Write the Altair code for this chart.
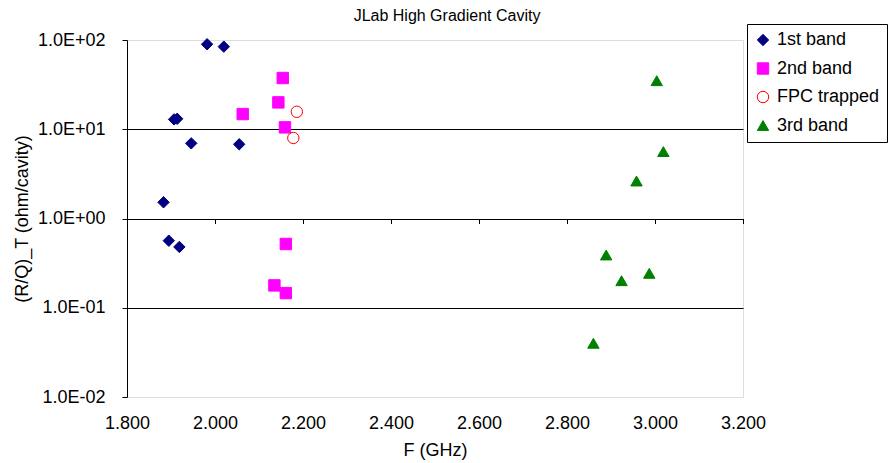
import altair as alt
import pandas as pd

# ---- data ----
series_names = ["1st band", "2nd band", "FPC trapped", "3rd band"]

freq_1st = [1.982, 2.020, 1.907, 1.914, 1.946, 2.055, 1.883, 1.895, 1.919]
rq_1st = [89.6, 84.2, 12.9, 13.1, 6.95, 6.78, 1.52, 0.564, 0.48]

freq_2nd = [2.154, 2.144, 2.063, 2.159, 2.161, 2.135, 2.161]
rq_2nd = [37.5, 20.0, 14.8, 10.5, 0.518, 0.178, 0.146]

freq_fpc = [2.186, 2.178]
rq_fpc = [15.7, 7.98]

freq_3rd = [3.004, 3.019, 2.958, 2.889, 2.987, 2.924, 2.860]
rq_3rd = [35.0, 5.62, 2.63, 0.39, 0.243, 0.201, 0.040]

x_ticks = [1.8, 2.0, 2.2, 2.4, 2.6, 2.8, 3.0, 3.2]
y_ticks = [0.01, 0.1, 1, 10, 100]

# ---- styles ----
fill_colors = ["#000080", "#FF00FF", "transparent", "#008000"]
stroke_colors = ["#000080", "#FF00FF", "#FF0000", "#008000"]
shapes = ["diamond", "square", "circle", "triangle-up"]
FONT = "Liberation Sans"

rows = []
for name, fx, fy in [
    ("1st band", freq_1st, rq_1st),
    ("2nd band", freq_2nd, rq_2nd),
    ("FPC trapped", freq_fpc, rq_fpc),
    ("3rd band", freq_3rd, rq_3rd),
]:
    for a, b in zip(fx, fy):
        rows.append({"series": name, "F": a, "RQ": b})
df = pd.DataFrame(rows)

exp = "round(log(datum.value)/LN10)"
label_expr = f"'1.0E' + ({exp} >= 0 ? '+' : '-') + (abs({exp}) < 10 ? '0' : '') + abs({exp})"

legend = alt.Legend(
    title=None,
    orient="none",
    legendX=620,
    legendY=-16,
    labelFontSize=18,
    labelFont=FONT,
    labelColor="black",
    symbolSize=130,
    symbolStrokeWidth=1,
    symbolOpacity=1,
    rowPadding=10.5,
    padding=7,
    strokeColor="black",
    fillColor="white",
    labelOffset=5,
    cornerRadius=0,
)

chart = (
    alt.Chart(df)
    .mark_point(opacity=1, size=130, strokeWidth=1)
    .encode(
        x=alt.X(
            "F:Q",
            title="F (GHz)",
            scale=alt.Scale(domain=[1.8, 3.2], nice=False, zero=False),
            axis=alt.Axis(
                values=x_ticks,
                format=".3f",
                grid=False,
                domain=False,
                ticks=True,
                tickColor="black",
                tickSize=5,
                offset=-178.5,
                labelPadding=191,
                labelFlush=False,
                labelFontSize=18,
                labelFont=FONT,
                labelColor="black",
                titleFontSize=18,
                titleFont=FONT,
                titleFontWeight="normal",
                titleColor="black",
                titlePadding=23,
            ),
        ),
        y=alt.Y(
            "RQ:Q",
            title="(R/Q)_T (ohm/cavity)",
            scale=alt.Scale(type="log", domain=[0.01, 100], nice=False),
            axis=alt.Axis(
                values=y_ticks,
                labelExpr=label_expr,
                grid=True,
                gridColor=alt.condition(
                    "datum.value > 0.05 && datum.value < 50",
                    alt.value("black"),
                    alt.value("transparent"),
                ),
                gridWidth=1,
                domain=True,
                domainColor="black",
                ticks=True,
                tickColor="black",
                tickSize=5,
                labelPadding=17,
                labelFlush=False,
                labelFontSize=18,
                labelFont=FONT,
                labelColor="black",
                titleFontSize=18,
                titleFont=FONT,
                titleFontWeight="normal",
                titleColor="black",
                titlePadding=6,
            ),
        ),
        fill=alt.Fill("series:N", scale=alt.Scale(domain=series_names, range=fill_colors), legend=legend),
        stroke=alt.Stroke("series:N", scale=alt.Scale(domain=series_names, range=stroke_colors), legend=legend),
        shape=alt.Shape("series:N", scale=alt.Scale(domain=series_names, range=shapes), legend=legend),
    )
    .properties(
        width=616,
        height=357,
        autosize=alt.AutoSizeParams(type="none"),
        padding={"left": 127, "top": 40, "right": 146, "bottom": 66},
        title=alt.TitleParams(
            "JLab High Gradient Cavity",
            fontSize=16,
            font=FONT,
            fontWeight="normal",
            color="black",
            anchor="middle",
            baseline="bottom",
            dx=12,
            dy=16,
            offset=0,
        ),
    )
    .configure_view(stroke="#808080", strokeWidth=1)
    .configure(background="white")
)

chart.save("out.html", embed_options={"renderer": "svg", "actions": False})
